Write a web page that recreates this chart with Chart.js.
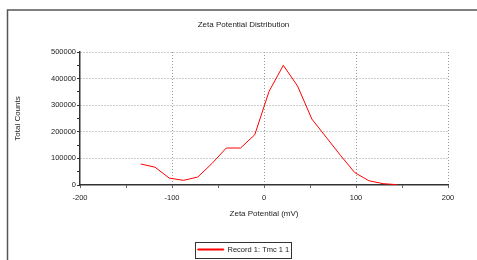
<!DOCTYPE html>
<html>
<head>
<meta charset="utf-8">
<script src="https://cdn.jsdelivr.net/npm/chart.js@4/dist/chart.umd.min.js"></script>
<style>
  html, body { margin: 0; padding: 0; background: #fff; overflow: hidden; }
  #wrap { position: relative; width: 477px; height: 260px; }
</style>
</head>
<body>
<div id="wrap"><canvas id="zeta"></canvas></div>
<script>
/* global Chart */

// Zeta potential (mV) and total counts
const zetaMv = [-134, -118.5, -103, -87.5, -72, -56.5, -41, -25.5, -10, 5.5, 21, 36.5, 52, 67.5, 83, 98.5, 114, 129.5, 145];
const totalCounts = [79000, 67000, 26000, 17500, 30000, 81000, 139000, 139000, 189000, 352000, 450000, 372000, 248000, 180000, 112000, 47000, 16000, 5000, 1000];

const seriesName = 'Record 1: Tmc 1 1';
const xRange = [-200, 200];
const yRange = [0, 500000];

const FONT = "Arial, 'Liberation Sans', sans-serif";
const GRID = '#999999';
const AXIS = '#333333';
const TEXT = '#222222';
const LINE = '#ff0000';

/* Outer frame and bordered legend, like the instrument printout */
const framePlugin = {
  id: 'frame',
  beforeDraw(chart) {
    const { ctx } = chart;
    ctx.save();
    ctx.strokeStyle = '#555';
    ctx.lineWidth = 1.5;
    ctx.beginPath();
    ctx.moveTo(7.5, 260);
    ctx.lineTo(7.5, 10);
    ctx.lineTo(477, 10);
    ctx.stroke();
    ctx.restore();
  },
  afterDraw(chart) {
    const box = chart.legend.legendHitBoxes[0];
    if (!box) return;
    const { ctx } = chart;
    const left = Math.round(box.left) - 2.5;
    const top = Math.round(box.top) - 3.5;
    ctx.save();
    ctx.strokeStyle = AXIS;
    ctx.lineWidth = 1;
    ctx.strokeRect(left, top, Math.round(box.width) + 5, Math.round(box.height) + 8);
    ctx.restore();
  },
};

const points = zetaMv.map((x, i) => ({ x, y: totalCounts[i] }));

new Chart(document.getElementById('zeta'), {
  type: 'scatter',
  data: {
    datasets: [{
      label: seriesName,
      data: points,
      showLine: true,
      borderColor: LINE,
      backgroundColor: LINE,
      borderWidth: 1,
      pointRadius: 0,
      tension: 0,
    }],
  },
  options: {
    responsive: true,
    maintainAspectRatio: false,
    animation: false,
    devicePixelRatio: 1,
    layout: { padding: { left: 10, right: 0, top: 0, bottom: -3.25 } },
    plugins: {
      title: {
        display: true,
        text: 'Zeta Potential Distribution',
        color: TEXT,
        font: { family: FONT, size: 8, weight: 'normal' },
        padding: { top: 20, bottom: 22.4 },
      },
      legend: {
        position: 'bottom',
        labels: {
          color: TEXT,
          font: { family: FONT, size: 7.5 },
          boxWidth: 26,
          boxHeight: 1,
          padding: 4,
        },
      },
      tooltip: { enabled: false },
    },
    scales: {
      x: {
        type: 'linear',
        min: xRange[0],
        max: xRange[1],
        afterFit(scale) { scale.height = 56.75; },
        ticks: {
          stepSize: 50,
          autoSkip: false,
          maxRotation: 0,
          color: TEXT,
          padding: 5,
          font: { family: FONT, size: 7.5 },
          callback: v => (v % 100 === 0 ? String(v) : ''),
        },
        grid: {
          color: ctx => (ctx.tick && ctx.tick.value % 100 === 0 && ctx.tick.value !== xRange[0] ? GRID : 'transparent'),
          tickColor: AXIS,
          tickLength: 3,
          tickBorderDash: [1, 0],
        },
        border: { color: AXIS, width: 1.5, dash: [1, 2] },
        title: {
          display: true,
          text: 'Zeta Potential (mV)',
          color: TEXT,
          font: { family: FONT, size: 8 },
          padding: { top: 4, bottom: 23 },
        },
      },
      y: {
        type: 'linear',
        min: yRange[0],
        max: yRange[1],
        afterFit(scale) { scale.width = 70; },
        ticks: {
          stepSize: 50000,
          autoSkip: false,
          color: TEXT,
          padding: 1,
          font: { family: FONT, size: 7.5 },
          callback: v => (v % 100000 === 0 ? String(v) : ''),
        },
        grid: {
          color: ctx => (ctx.tick && ctx.tick.value % 100000 === 0 && ctx.tick.value !== yRange[0] ? GRID : 'transparent'),
          tickColor: AXIS,
          tickLength: 3,
          tickBorderDash: [1, 0],
        },
        border: { color: AXIS, width: 1.5, dash: [1, 2] },
        title: {
          display: true,
          text: 'Total Counts',
          color: TEXT,
          font: { family: FONT, size: 8 },
          padding: { top: 3, bottom: 0 },
        },
      },
      // empty right-hand axis, only reserves the margin right of the plot
      yRight: {
        type: 'linear',
        position: 'right',
        min: 0,
        max: 1,
        afterFit(scale) { scale.width = 29; },
        ticks: { display: false },
        grid: { display: false },
        border: { display: false },
      },
    },
  },
  plugins: [framePlugin],
});
</script>
</body>
</html>
